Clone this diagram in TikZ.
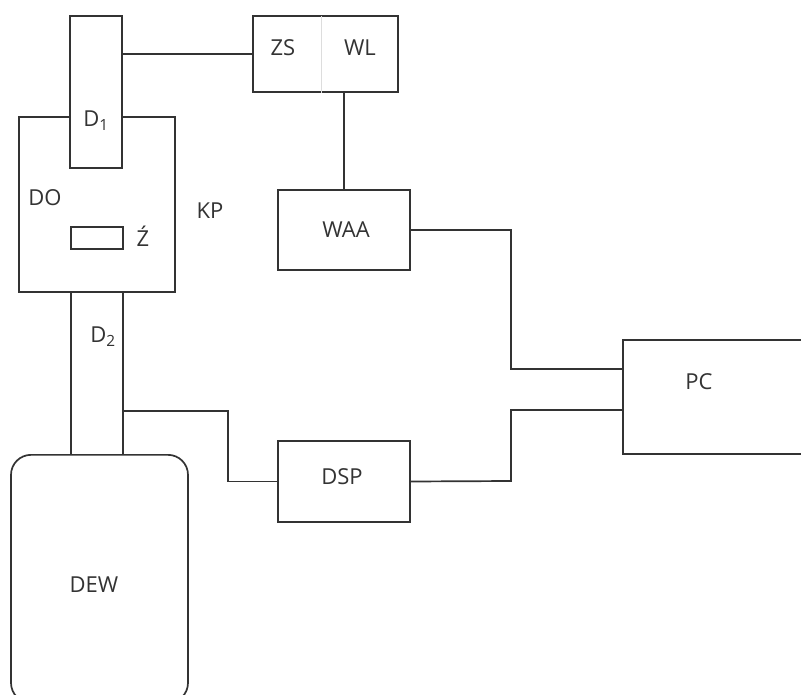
\documentclass[tikz,border=0pt]{standalone}
\usepackage{fontspec}
\setmainfont{Open Sans}
\usetikzlibrary{calc}
\definecolor{ln}{HTML}{333333}
\definecolor{dv}{HTML}{DDDDDD}
\tikzset{
  every node/.style={font=\fontsize{22}{26}\selectfont, text=ln},
  blk/.style={draw=ln, line width=1.7pt, fill=white, inner sep=0pt},
  wire/.style={draw=ln, line width=1.7pt},
  lbl/.style={inner sep=0pt}
}
\begin{document}
\begin{tikzpicture}[x=1pt,y=-1pt]
\useasboundingbox (0,0) rectangle (801,695);
\clip (0,0) rectangle (801,695);
\fill[white] (0,0) rectangle (801,695);
% DO box
\node[blk, minimum width=156pt, minimum height=175pt] (do) at (97,204.5) {};
% D1 probe
\node[blk, minimum width=52pt, minimum height=152pt] (d1) at (96,92) {};
% source rectangle
\node[blk, minimum width=52pt, minimum height=22pt] (zr) at (97,238) {};
% ZS / WL box
\node[blk, minimum width=145pt, minimum height=76pt] (zswl) at (325.5,54) {};
\draw[dv, line width=1pt] ($(zswl.north west)+(69,1)$) coordinate (dvt) -- (dvt |- zswl.south);
% WAA
\node[blk, minimum width=132pt, minimum height=80pt] (waa) at (344,230) {};
% DSP
\node[blk, minimum width=132pt, minimum height=81pt] (dsp) at (344,481.5) {};
% PC
\node[blk, minimum width=200pt, minimum height=114pt, anchor=west] (pc) at (622,397) {};
% DEW
\node[blk, rounded corners=20pt, minimum width=177pt, minimum height=248pt, anchor=north] (dew) at (99.5,454) {};
% D2 channel
\coordinate (d2tl) at (71,292);
\coordinate (d2tr) at (123,292);
\draw[wire] (d2tl) -- (d2tl |- dew.north);
\draw[wire] (d2tr) -- (d2tr |- dew.north);
% connectors
\draw[wire] (zswl.west -| d1.east) -- (zswl.west);
\draw[wire] (waa.north) -- (waa.north |- zswl.south);
\coordinate (pcin1) at ($(pc.west)+(0,-28)$);
\coordinate (pcin2) at ($(pc.west)+(0,13)$);
\draw[wire] (waa.east) -| (511,0 |- pcin1) -- (pcin1);
\draw[wire] (dsp.east) -- (511,481) |- (pcin2);
\coordinate (d2out) at (123,410.7);
\draw[wire] (d2out) -- (228,410.7) |- (dsp.west);
% labels
\node[lbl] (tzs) at (283,48) {ZS};
\node[lbl] (twl) at (360,48) {WL};
\node[lbl] (twaa) at (346,230) {WAA};
\node[lbl] (tdsp) at (342,477) {DSP};
\node[lbl] (tpc) at (699,382) {PC};
\node[lbl] (tdew) at (94,585) {DEW};
\node[lbl] (tdo) at (45,198) {DO};
\node[lbl] (tkp) at (210,211) {KP};
\node[lbl] (tz) at (143,236) {Ź};
\node[lbl] (td1) at (96,121) {D\textsubscript{1}};
\node[lbl] (td2) at (103,337) {D\textsubscript{2}};
\end{tikzpicture}
\end{document}
